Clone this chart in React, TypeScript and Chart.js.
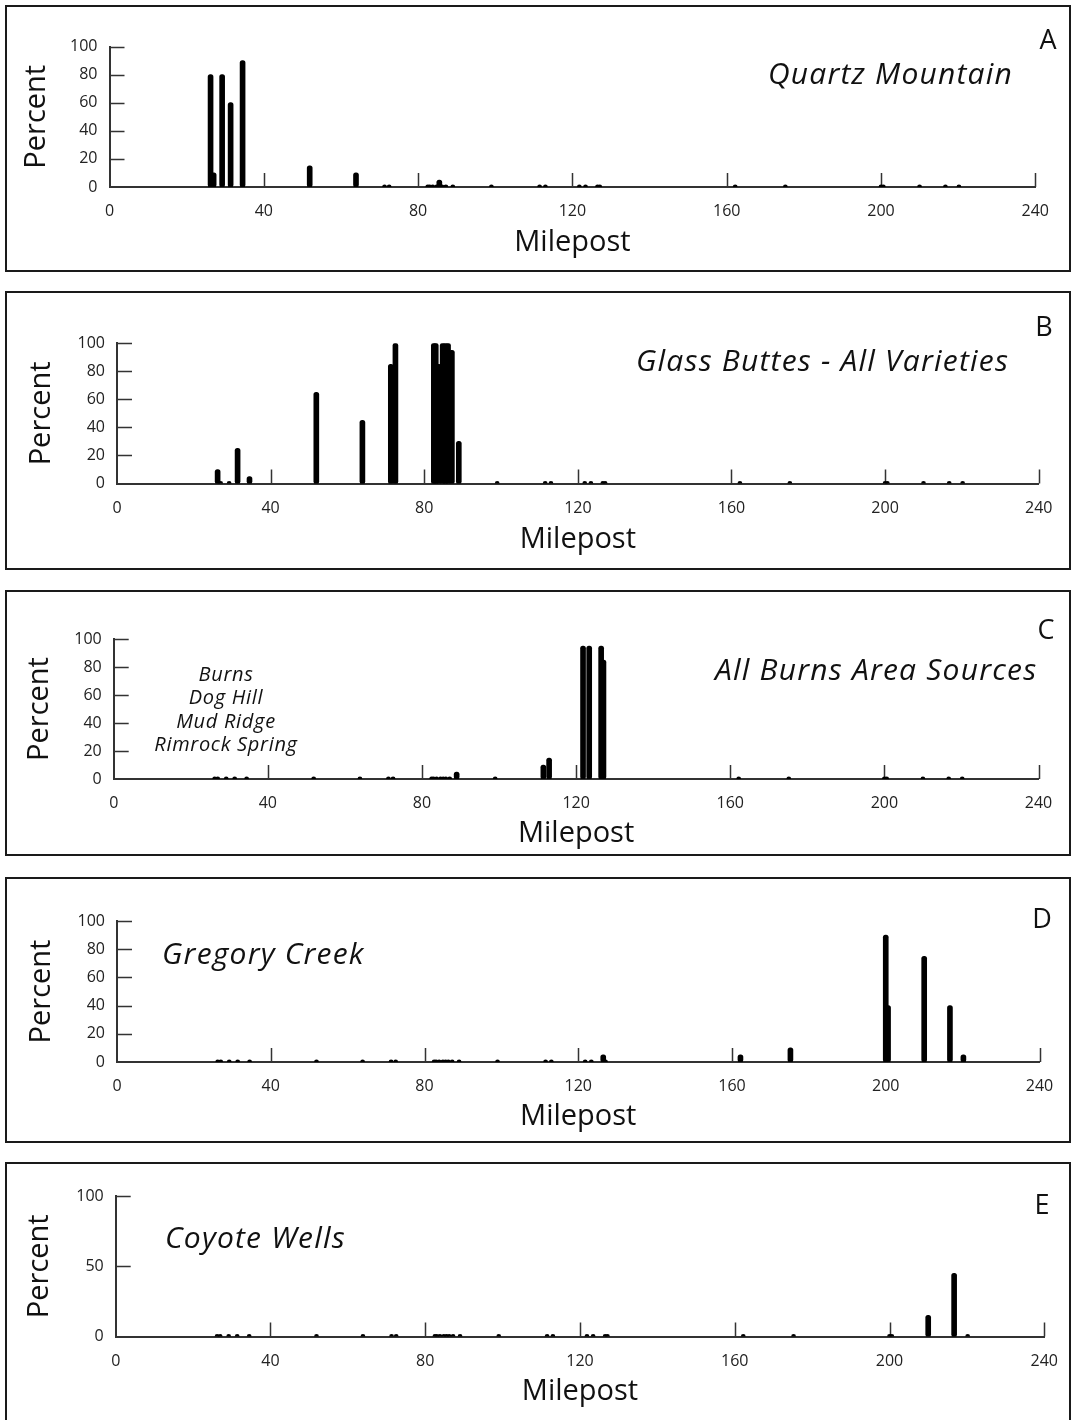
import React, { useEffect, useRef } from "react";
import { Chart, registerables } from "chart.js";

Chart.register(...registerables);

// Sample locations (milepost) shared by every panel
const mileposts = [
  26.2, 27, 29.2, 31.4, 34.5, 51.9, 63.9, 71.3, 72.5, 82.5, 83, 83.8, 84.8, 85.5, 86.2, 87.2,
  89, 99, 111.5, 113, 121.8, 123.4, 126.5, 127.1, 162.2, 175.2, 200, 200.6, 210, 216.7, 220.2,
];

// Percent of artifacts from each source at each milepost (aligned with mileposts)
const quartzMountain = [
  80, 10, 80, 60, 90, 15, 10, 0, 0, 0, 0, 0, 0, 5, 0, 0,
  0, 0, 0, 0, 0, 0, 0, 0, 0, 0, 0, 0, 0, 0, 0,
];
const glassButtes = [
  10, 0, 0, 25, 5, 65, 45, 85, 100, 100, 100, 85, 100, 100, 100, 95,
  30, 0, 0, 0, 0, 0, 0, 0, 0, 0, 0, 0, 0, 0, 0,
];
const burnsArea = [
  0, 0, 0, 0, 0, 0, 0, 0, 0, 0, 0, 0, 0, 0, 0, 0,
  5, 0, 10, 15, 95, 95, 95, 85, 0, 0, 0, 0, 0, 0, 0,
];
const gregoryCreek = [
  0, 0, 0, 0, 0, 0, 0, 0, 0, 0, 0, 0, 0, 0, 0, 0,
  0, 0, 0, 0, 0, 0, 5, 0, 5, 10, 90, 40, 75, 40, 5,
];
const coyoteWells = [
  0, 0, 0, 0, 0, 0, 0, 0, 0, 0, 0, 0, 0, 0, 0, 0,
  0, 0, 0, 0, 0, 0, 0, 0, 0, 0, 0, 0, 15, 45, 0,
];

const xTickStep = 40;
const xMax = 240;
const yMax = 100;

const FONT = "'Open Sans', 'Noto Sans', sans-serif";
const PAGE_W = 1073;
const TITLE_SIZE = 29;
const TITLE_LH = TITLE_SIZE * 1.2;

type PanelCfg = {
  letter: string;
  source: string;
  values: number[];
  yStep: number;
  boxTop: number;
  boxBottom: number;
  yTop: number;
  yBottom: number;
  xLeft: number;
  xRight: number;
  percentX: number;
  mileY: number;
  srcX: number;
  srcY: number;
  letterX: number;
  letterY: number;
};

const panels: PanelCfg[] = [
  { letter: "A", source: "Quartz Mountain", values: quartzMountain, yStep: 20,
    boxTop: 5, boxBottom: 272, yTop: 46.5, yBottom: 187, xLeft: 109.5, xRight: 1035.3,
    percentX: 37, mileY: 243, srcX: 768, srcY: 73, letterX: 1048, letterY: 38 },
  { letter: "B", source: "Glass Buttes - All Varieties", values: glassButtes, yStep: 20,
    boxTop: 291, boxBottom: 570, yTop: 343.3, yBottom: 483.5, xLeft: 117, xRight: 1038.7,
    percentX: 42, mileY: 540, srcX: 636, srcY: 360, letterX: 1044, letterY: 325 },
  { letter: "C", source: "All Burns Area Sources", values: burnsArea, yStep: 20,
    boxTop: 590, boxBottom: 856, yTop: 639, yBottom: 779, xLeft: 113.7, xRight: 1038.5,
    percentX: 40, mileY: 834, srcX: 715, srcY: 669, letterX: 1046, letterY: 628 },
  { letter: "D", source: "Gregory Creek", values: gregoryCreek, yStep: 20,
    boxTop: 877, boxBottom: 1143, yTop: 921, yBottom: 1062, xLeft: 117, xRight: 1039.5,
    percentX: 42, mileY: 1117, srcX: 162, srcY: 953, letterX: 1042, letterY: 917 },
  { letter: "E", source: "Coyote Wells", values: coyoteWells, yStep: 50,
    boxTop: 1162, boxBottom: 1424, yTop: 1196, yBottom: 1336.5, xLeft: 115.7, xRight: 1045.7,
    percentX: 40, mileY: 1392, srcX: 165, srcY: 1237, letterX: 1042, letterY: 1203 },
];

const burnsNames = ["Burns", "Dog Hill", "Mud Ridge", "Rimrock Spring"];

const inwardTicks = {
  id: "inwardTicks",
  beforeDatasetsDraw(chart: any) {
    const { ctx, chartArea, scales } = chart;
    const x = scales.x;
    const y = scales.y;
    ctx.save();
    ctx.strokeStyle = "#333";
    ctx.lineWidth = 1.5;
    ctx.beginPath();
    x.ticks.forEach((t: any) => {
      if (t.value === 0) return;
      const px = Math.round(x.getPixelForValue(t.value)) + 0.5;
      ctx.moveTo(px, chartArea.bottom);
      ctx.lineTo(px, chartArea.bottom - 14);
    });
    y.ticks.forEach((t: any) => {
      if (t.value === 0) return;
      const py = Math.round(y.getPixelForValue(t.value)) + 0.5;
      ctx.moveTo(chartArea.left, py);
      ctx.lineTo(chartArea.left + 15, py);
    });
    ctx.stroke();
    ctx.restore();
  },
};

function Panel({ cfg }: { cfg: PanelCfg }) {
  const ref = useRef<HTMLCanvasElement | null>(null);
  const h = cfg.boxBottom - cfg.boxTop;

  useEffect(() => {
    if (!ref.current) return;
    const padLeft = cfg.percentX - TITLE_LH / 2;
    const yWidth = cfg.xLeft - padLeft;
    const xHeight = cfg.mileY - cfg.yBottom + TITLE_LH / 2;
    const padTop = cfg.yTop - cfg.boxTop;
    const padBottom = h - (cfg.yBottom - cfg.boxTop) - xHeight;
    const padRight = PAGE_W - cfg.xRight;

    const bars = mileposts
      .map((m, i) => ({ x: m, y: cfg.values[i] }))
      .filter((d) => d.y > 0);
    const dots = mileposts.map((m) => ({ x: m, y: 0 }));

    const chart = new Chart(ref.current, {
      type: "bar",
      data: {
        datasets: [
          {
            type: "bar",
            data: bars as any,
            backgroundColor: "#000",
            borderColor: "#000",
            borderWidth: 0,
            barThickness: 5,
            borderRadius: 2.5,
            borderSkipped: false,
            order: 1,
          } as any,
          {
            type: "scatter",
            data: dots as any,
            pointRadius: 2.4,
            pointBackgroundColor: "#000",
            pointBorderWidth: 0,
            showLine: false,
            order: 0,
          } as any,
        ],
      },
      options: {
        responsive: false,
        animation: false,
        devicePixelRatio: 1,
        layout: { padding: { top: padTop, left: padLeft, right: padRight, bottom: padBottom } },
        plugins: { legend: { display: false }, tooltip: { enabled: false }, title: { display: false } },
        scales: {
          x: {
            type: "linear",
            min: 0,
            max: xMax,
            offset: false,
            grid: { display: false, drawTicks: false },
            border: { display: true, color: "#333", width: 2 },
            ticks: {
              stepSize: xTickStep,
              padding: 15,
              autoSkip: false,
              maxRotation: 0,
              color: "#222",
              font: { family: FONT, size: 16 },
            },
            title: {
              display: true,
              text: "Milepost",
              color: "#111",
              padding: 0,
              font: { family: FONT, size: TITLE_SIZE, lineHeight: 1.2 },
            },
            afterFit: (s: any) => {
              s.height = xHeight;
            },
          },
          y: {
            type: "linear",
            min: 0,
            max: yMax,
            grid: { display: false, drawTicks: false },
            border: { display: true, color: "#333", width: 2 },
            ticks: {
              stepSize: cfg.yStep,
              padding: 12,
              color: "#222",
              font: { family: FONT, size: 16 },
            },
            title: {
              display: true,
              text: "Percent",
              color: "#111",
              padding: 0,
              font: { family: FONT, size: TITLE_SIZE, lineHeight: 1.2 },
            },
            afterFit: (s: any) => {
              s.width = yWidth;
            },
          },
        },
      } as any,
      plugins: [inwardTicks],
    });
    return () => chart.destroy();
  }, [cfg, h]);

  return (
    <>
      <canvas
        ref={ref}
        width={PAGE_W}
        height={h}
        style={{ position: "absolute", left: 0, top: cfg.boxTop, width: PAGE_W, height: h, display: "block" }}
      />
      <div
        style={{
          position: "absolute",
          left: 5,
          top: cfg.boxTop,
          width: PAGE_W - 5 - 2,
          height: h,
          border: "2px solid #1a1a1a",
          boxSizing: "border-box",
          pointerEvents: "none",
        }}
      />
      <div
        style={{
          position: "absolute",
          left: cfg.srcX,
          top: cfg.srcY,
          transform: "translateY(-50%)",
          fontFamily: FONT,
          fontStyle: "italic",
          fontSize: 30,
          letterSpacing: 1.2,
          lineHeight: 1,
          color: "#111",
          whiteSpace: "nowrap",
        }}
      >
        {cfg.source}
      </div>
      <div
        style={{
          position: "absolute",
          left: cfg.letterX,
          top: cfg.letterY,
          transform: "translate(-50%, -50%)",
          fontFamily: FONT,
          fontSize: 27,
          lineHeight: 1,
          color: "#111",
        }}
      >
        {cfg.letter}
      </div>
      {cfg.letter === "C" &&
        burnsNames.map((n, i) => (
          <div
            key={n}
            style={{
              position: "absolute",
              left: 226,
              top: 674 + i * 23.3,
              transform: "translate(-50%, -50%)",
              fontFamily: FONT,
              fontStyle: "italic",
              fontSize: 20,
              letterSpacing: 0.7,
              lineHeight: 1,
              color: "#111",
              whiteSpace: "nowrap",
            }}
          >
            {n}
          </div>
        ))}
    </>
  );
}

export default function App() {
  return (
    <div
      style={{
        position: "absolute",
        left: 0,
        top: 0,
        width: PAGE_W,
        height: 1420,
        background: "#fff",
        overflow: "hidden",
      }}
    >
      {panels.map((p) => (
        <Panel key={p.letter} cfg={p} />
      ))}
    </div>
  );
}
